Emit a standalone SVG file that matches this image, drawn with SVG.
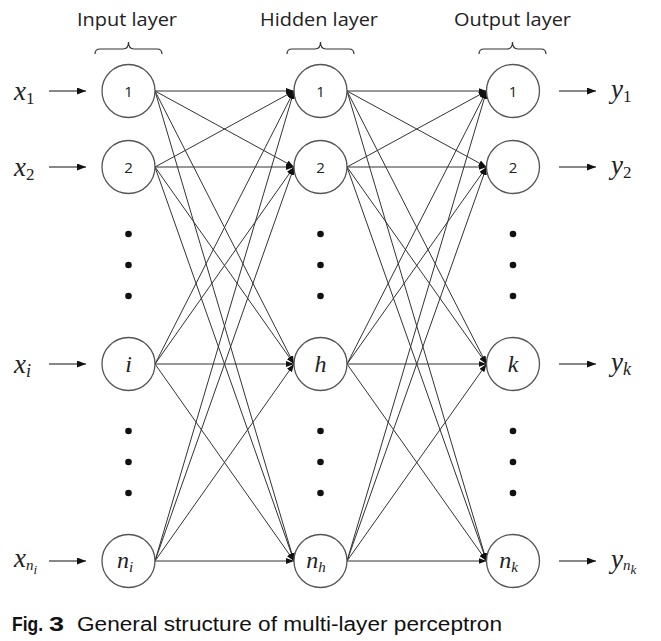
<svg xmlns="http://www.w3.org/2000/svg" width="661" height="641" viewBox="0 0 661 641">
<defs>
<style>
.node{fill:#fff;stroke:#555;stroke-width:1.3}
.num{font-family:"Open Sans","Liberation Sans",sans-serif;font-size:15px;fill:#222;text-anchor:middle}
.hdr{font-family:"Open Sans","Liberation Sans",sans-serif;font-size:19px;fill:#222;text-anchor:middle}
.m{font-family:"Liberation Serif","DejaVu Serif",serif;font-style:italic;fill:#222}
.mn{font-size:24px;text-anchor:middle}
.ml{font-size:27px}
.sub{font-style:normal;font-size:17px}
.isub{font-size:18px}
.nsub{font-size:15px}
.ssub{font-size:13px}
.brace{fill:none;stroke:#333;stroke-width:1.2}
.dot{fill:#111}
.c{stroke:#333;stroke-width:1;fill:none;marker-end:url(#ah)}
.io{stroke:#111;stroke-width:1.2;fill:none;marker-end:url(#ah2)}
.cap{font-family:"Liberation Sans",Arial,sans-serif;font-size:20px;fill:#111}
</style>
<marker id="ah" markerUnits="userSpaceOnUse" markerWidth="8" markerHeight="6" refX="8" refY="3" orient="auto">
<path d="M0,0 L8,3 L0,6 z" fill="#111"/>
</marker>
<marker id="ah2" markerUnits="userSpaceOnUse" markerWidth="9" markerHeight="7" refX="9" refY="3.5" orient="auto">
<path d="M0,0 L9,3.5 L0,7 z" fill="#111"/>
</marker>
</defs>
<rect width="661" height="641" fill="#fff"/>

<g id="headers">
<text class="hdr" x="127" y="26" textLength="100" lengthAdjust="spacingAndGlyphs">Input layer</text>
<text class="hdr" x="319" y="26" textLength="118" lengthAdjust="spacingAndGlyphs">Hidden layer</text>
<text class="hdr" x="512.5" y="26" textLength="117" lengthAdjust="spacingAndGlyphs">Output layer</text>
<path class="brace" d="M95,54 Q95,49 100,49 L123,49 Q128.5,49 128.5,42 Q128.5,49 134,49 L157,49 Q162,49 162,54"/>
<path class="brace" d="M287,54 Q287,49 292,49 L315,49 Q320.5,49 320.5,42 Q320.5,49 326,49 L349,49 Q354,49 354,54"/>
<path class="brace" d="M479,54 Q479,49 484,49 L507,49 Q512.5,49 512.5,42 Q512.5,49 518,49 L541,49 Q546,49 546,54"/>
</g>

<g id="connectors">
<line class="io" x1="49" y1="91" x2="86" y2="91"/>
<line class="io" x1="49" y1="167" x2="86" y2="167"/>
<line class="io" x1="49" y1="364" x2="86" y2="364"/>
<line class="io" x1="49" y1="561" x2="86" y2="561"/>
<line class="io" x1="559" y1="91" x2="596" y2="91"/>
<line class="io" x1="559" y1="167" x2="596" y2="167"/>
<line class="io" x1="559" y1="364" x2="596" y2="364"/>
<line class="io" x1="559" y1="561" x2="596" y2="561"/>
<line class="c" x1="155" y1="91" x2="294" y2="91"/>
<line class="c" x1="155" y1="91" x2="294" y2="167"/>
<line class="c" x1="155" y1="91" x2="294" y2="364"/>
<line class="c" x1="155" y1="91" x2="294" y2="561"/>
<line class="c" x1="155" y1="167" x2="294" y2="91"/>
<line class="c" x1="155" y1="167" x2="294" y2="167"/>
<line class="c" x1="155" y1="167" x2="294" y2="364"/>
<line class="c" x1="155" y1="167" x2="294" y2="561"/>
<line class="c" x1="155" y1="364" x2="294" y2="91"/>
<line class="c" x1="155" y1="364" x2="294" y2="167"/>
<line class="c" x1="155" y1="364" x2="294" y2="364"/>
<line class="c" x1="155" y1="364" x2="294" y2="561"/>
<line class="c" x1="155" y1="561" x2="294" y2="91"/>
<line class="c" x1="155" y1="561" x2="294" y2="167"/>
<line class="c" x1="155" y1="561" x2="294" y2="364"/>
<line class="c" x1="155" y1="561" x2="294" y2="561"/>
<line class="c" x1="347" y1="91" x2="486.5" y2="91"/>
<line class="c" x1="347" y1="91" x2="486.5" y2="167"/>
<line class="c" x1="347" y1="91" x2="486.5" y2="364"/>
<line class="c" x1="347" y1="91" x2="486.5" y2="561"/>
<line class="c" x1="347" y1="167" x2="486.5" y2="91"/>
<line class="c" x1="347" y1="167" x2="486.5" y2="167"/>
<line class="c" x1="347" y1="167" x2="486.5" y2="364"/>
<line class="c" x1="347" y1="167" x2="486.5" y2="561"/>
<line class="c" x1="347" y1="364" x2="486.5" y2="91"/>
<line class="c" x1="347" y1="364" x2="486.5" y2="167"/>
<line class="c" x1="347" y1="364" x2="486.5" y2="364"/>
<line class="c" x1="347" y1="364" x2="486.5" y2="561"/>
<line class="c" x1="347" y1="561" x2="486.5" y2="91"/>
<line class="c" x1="347" y1="561" x2="486.5" y2="167"/>
<line class="c" x1="347" y1="561" x2="486.5" y2="364"/>
<line class="c" x1="347" y1="561" x2="486.5" y2="561"/>
</g>

<g id="input-labels">
<text class="m ml" x="14" y="100">x<tspan class="sub" dy="4">1</tspan></text>
<text class="m ml" x="14" y="176">x<tspan class="sub" dy="4">2</tspan></text>
<text class="m ml" x="14" y="373">x<tspan class="isub" dy="4">i</tspan></text>
<text class="m ml" x="14" y="567">x<tspan class="nsub" dy="3">n</tspan><tspan class="ssub" dy="4">i</tspan></text>
</g>

<g id="in-1"><circle class="node" cx="128.5" cy="91" r="26.5"/><text class="num" x="128.5" y="96.5">1</text></g>
<g id="in-2"><circle class="node" cx="128.5" cy="167" r="26.5"/><text class="num" x="128.5" y="172.5">2</text></g>
<g id="in-i"><circle class="node" cx="128.5" cy="364" r="26.5"/><text class="m mn" x="128.5" y="372">i</text></g>
<g id="in-n"><circle class="node" cx="128.5" cy="561" r="26.5"/><text class="m mn" x="125" y="568">n<tspan class="nsub" dy="4">i</tspan></text></g>

<g id="hid-1"><circle class="node" cx="320.5" cy="91" r="26.5"/><text class="num" x="320.5" y="96.5">1</text></g>
<g id="hid-2"><circle class="node" cx="320.5" cy="167" r="26.5"/><text class="num" x="320.5" y="172.5">2</text></g>
<g id="hid-h"><circle class="node" cx="320.5" cy="364" r="26.5"/><text class="m mn" x="320.5" y="372">h</text></g>
<g id="hid-n"><circle class="node" cx="320.5" cy="561" r="26.5"/><text class="m mn" x="316" y="568">n<tspan class="nsub" dy="4">h</tspan></text></g>

<g id="out-1"><circle class="node" cx="513" cy="91" r="26.5"/><text class="num" x="513" y="96.5">1</text></g>
<g id="out-2"><circle class="node" cx="513" cy="167" r="26.5"/><text class="num" x="513" y="172.5">2</text></g>
<g id="out-k"><circle class="node" cx="513" cy="364" r="26.5"/><text class="m mn" x="513" y="372">k</text></g>
<g id="out-n"><circle class="node" cx="513" cy="561" r="26.5"/><text class="m mn" x="508.5" y="568">n<tspan class="nsub" dy="4">k</tspan></text></g>

<g id="output-labels">
<text class="m ml" x="611" y="98">y<tspan class="sub" dy="4">1</tspan></text>
<text class="m ml" x="611" y="174">y<tspan class="sub" dy="4">2</tspan></text>
<text class="m ml" x="611" y="371">y<tspan class="isub" dy="4">k</tspan></text>
<text class="m ml" x="611" y="568">y<tspan class="nsub" dy="2">n</tspan><tspan class="ssub" dy="4">k</tspan></text>
</g>

<g id="dots">
<circle class="dot" cx="128.5" cy="234" r="3.3"/><circle class="dot" cx="128.5" cy="265" r="3.3"/><circle class="dot" cx="128.5" cy="296" r="3.3"/>
<circle class="dot" cx="128.5" cy="431" r="3.3"/><circle class="dot" cx="128.5" cy="462" r="3.3"/><circle class="dot" cx="128.5" cy="493" r="3.3"/>
<circle class="dot" cx="320.5" cy="234" r="3.3"/><circle class="dot" cx="320.5" cy="265" r="3.3"/><circle class="dot" cx="320.5" cy="296" r="3.3"/>
<circle class="dot" cx="320.5" cy="431" r="3.3"/><circle class="dot" cx="320.5" cy="462" r="3.3"/><circle class="dot" cx="320.5" cy="493" r="3.3"/>
<circle class="dot" cx="513" cy="234" r="3.3"/><circle class="dot" cx="513" cy="265" r="3.3"/><circle class="dot" cx="513" cy="296" r="3.3"/>
<circle class="dot" cx="513" cy="431" r="3.3"/><circle class="dot" cx="513" cy="462" r="3.3"/><circle class="dot" cx="513" cy="493" r="3.3"/>
</g>

<g id="caption">
<text class="cap" x="12" y="631" font-weight="bold" textLength="31" lengthAdjust="spacingAndGlyphs">Fig.</text>
<text class="cap" x="49" y="631" font-weight="bold" textLength="15" lengthAdjust="spacingAndGlyphs">3</text>
<text class="cap" x="77" y="631" textLength="425" lengthAdjust="spacingAndGlyphs">General structure of multi-layer perceptron</text>
</g>
</svg>
